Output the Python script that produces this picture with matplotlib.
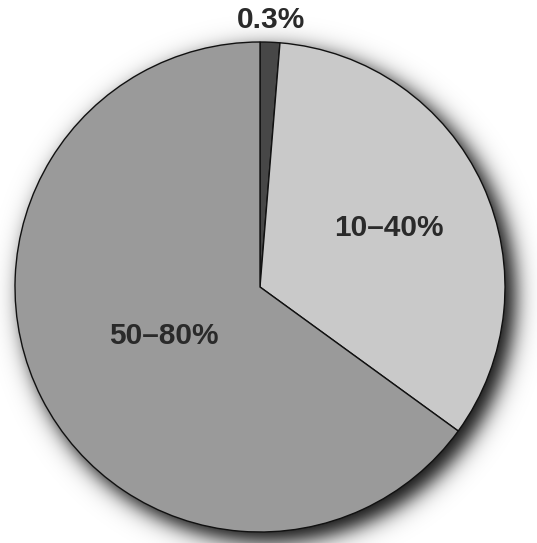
import numpy as np
import matplotlib
matplotlib.use("Agg")
import matplotlib.pyplot as plt

labels = ["0.3%", "10–40%", "50–80%"]
sizes = [1.3, 33.7, 65.0]
colors = ["#474747", "#c9c9c9", "#9a9a9a"]
label_radius = [1.09, 0.58, 0.44]

W, H = 537, 543
fig = plt.figure(figsize=(W / 100, H / 100), dpi=100)
ax = fig.add_axes([0, 0, 1, 1])
scale = 245.0
cx, cy = 260.0, 287.0
xlim = (-cx / scale, (W - cx) / scale)
ylim = (-(H - cy) / scale, cy / scale)

# soft drop shadow
gx = np.linspace(xlim[0], xlim[1], W)
gy = np.linspace(ylim[1], ylim[0], H)
X, Y = np.meshgrid(gx, gy)
d = np.hypot(X - 0.035, Y + 0.035) - 1.0
alpha = 0.95 / (1 + np.exp((d - 0.01) / 0.026))
rgba = np.zeros((H, W, 4))
rgba[..., 3] = alpha
ax.imshow(rgba, extent=(xlim[0], xlim[1], ylim[0], ylim[1]), zorder=0, aspect="auto")

wedges, _ = ax.pie(sizes, colors=colors, startangle=90, counterclock=False, radius=1.0,
                   wedgeprops=dict(edgecolor="#111111", linewidth=1.0))
for w in wedges:
    w.set_zorder(2)

for w, lab, r in zip(wedges, labels, label_radius):
    ang = np.deg2rad((w.theta1 + w.theta2) / 2)
    ax.text(r * np.cos(ang), r * np.sin(ang), lab, ha="center", va="center",
            fontsize=21.5, color="#2a2a2a", family="Liberation Sans", fontweight="bold",
            zorder=3)

ax.set_xlim(*xlim)
ax.set_ylim(*ylim)
ax.set_aspect("auto")
ax.axis("off")
fig.savefig("out.png", dpi=100, facecolor="white")
